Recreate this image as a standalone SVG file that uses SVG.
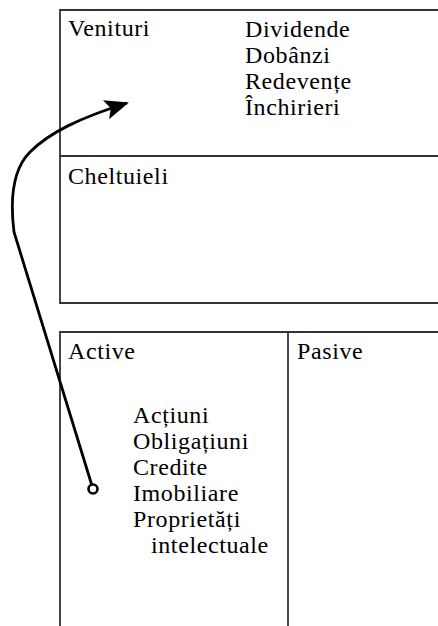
<svg xmlns="http://www.w3.org/2000/svg" width="438" height="626" viewBox="0 0 438 626">
<defs>
<style>
.t{font-family:"Liberation Serif","Times New Roman",serif;font-size:24px;letter-spacing:0.6px;fill:#000}
.b{stroke:#333;stroke-width:1.8;fill:none}
.c{stroke:#000;stroke-width:2.8;fill:none}
</style>
<marker id="ah" markerUnits="userSpaceOnUse" viewBox="0 0 24 20" refX="22" refY="10" markerWidth="24" markerHeight="20" orient="auto">
<path d="M0,0 L24,10 L0,20 L5,10 z" fill="#000"/>
</marker>
<marker id="dot" markerUnits="userSpaceOnUse" viewBox="0 0 14 14" refX="7" refY="7" markerWidth="14" markerHeight="14">
<circle cx="7" cy="7" r="4.5" fill="#fff" stroke="#000" stroke-width="2.6"/>
</marker>
</defs>
<rect width="438" height="626" fill="#fff"/>
<g id="venituri">
<path class="b" d="M438,10 H60 V156 H438"/>
<text class="t" x="68" y="36">Venituri</text>
<text class="t" x="245" y="37">Dividende</text>
<text class="t" x="245" y="63">Dobânzi</text>
<text class="t" x="245" y="89">Redevențe</text>
<text class="t" x="245" y="115">Închirieri</text>
</g>
<g id="cheltuieli">
<path class="b" d="M60,156 V303 H438"/>
<text class="t" x="68" y="184">Cheltuieli</text>
</g>
<g id="active">
<path class="b" d="M60,626 V332 H288 V626"/>
<text class="t" x="68" y="359">Active</text>
<text class="t" x="133" y="423">Acțiuni</text>
<text class="t" x="133" y="449">Obligațiuni</text>
<text class="t" x="133" y="475">Credite</text>
<text class="t" x="133" y="501">Imobiliare</text>
<text class="t" x="133" y="527">Proprietăți</text>
<text class="t" x="151" y="553">intelectuale</text>
</g>
<g id="pasive">
<path class="b" d="M288,332 H438"/>
<text class="t" x="297" y="359">Pasive</text>
</g>
<g id="connectors">
<path class="c" d="M93,489 L14,232 C10,200 12,170 30,152 C50,132 80,118 127,103" marker-start="url(#dot)" marker-end="url(#ah)"/>
</g>
</svg>
